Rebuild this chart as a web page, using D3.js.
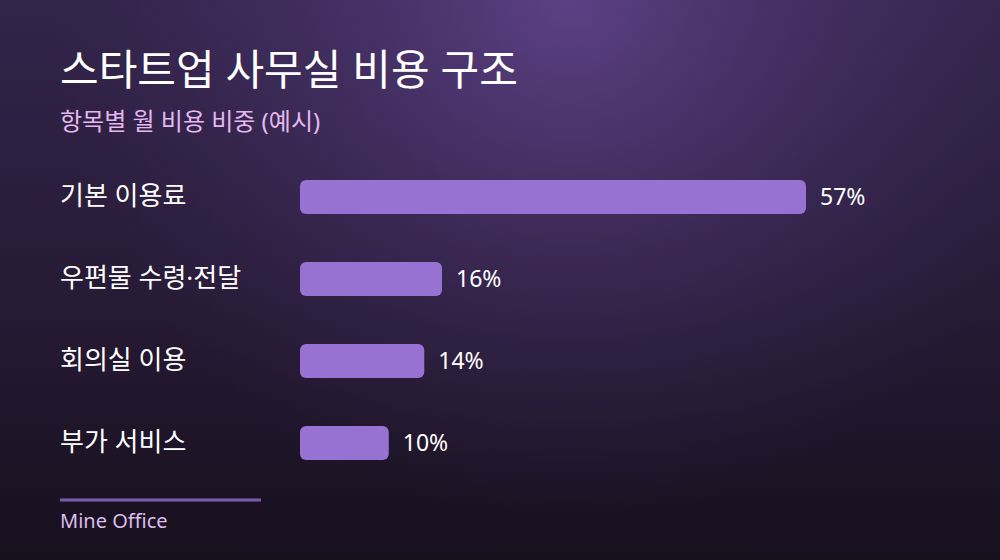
<html>
<head>
<meta charset="utf-8">
<script src="https://d3js.org/d3.v7.min.js"></script>
<style>
body { margin: 0; background: #17111f; }
svg { display: block; font-family: "Noto Sans", "Noto Sans CJK KR", sans-serif; }
</style>
</head>
<body>
<svg width="1000" height="560"></svg>
<script>
  var categories = ["기본 이용료", "우편물 수령·전달", "회의실 이용", "부가 서비스"];
  var shares = [57, 16, 14, 10];
  var valueLabels = ["57%", "16%", "14%", "10%"];

  var svg = d3.select("svg");
  var W = 1000, H = 560;

  // background: vertical fade + glow at the top
  var defs = svg.append("defs");
  var base = defs.append("linearGradient")
    .attr("id", "base")
    .attr("x1", 0).attr("y1", 0).attr("x2", 0).attr("y2", 1);
  base.append("stop").attr("offset", "0%").attr("stop-color", "#33244a");
  base.append("stop").attr("offset", "50%").attr("stop-color", "#281b37");
  base.append("stop").attr("offset", "100%").attr("stop-color", "#17101d");

  var glow = defs.append("radialGradient")
    .attr("id", "glow")
    .attr("gradientUnits", "userSpaceOnUse")
    .attr("cx", 570).attr("cy", 0).attr("r", 520);
  glow.append("stop").attr("offset", "0%").attr("stop-color", "#6a4a98").attr("stop-opacity", 0.75);
  glow.append("stop").attr("offset", "50%").attr("stop-color", "#5a3f85").attr("stop-opacity", 0.35);
  glow.append("stop").attr("offset", "100%").attr("stop-color", "#4a3470").attr("stop-opacity", 0);

  svg.append("rect").attr("width", W).attr("height", H).attr("fill", "url(#base)");
  svg.append("rect").attr("width", W).attr("height", H).attr("fill", "url(#glow)");

  svg.append("text")
    .attr("x", 60).attr("y", 85)
    .attr("fill", "#ffffff")
    .attr("font-size", 42)
    .text("스타트업 사무실 비용 구조");

  svg.append("text")
    .attr("x", 60).attr("y", 130)
    .attr("fill", "#e3b9f0")
    .attr("font-size", 24)
    .text("항목별 월 비용 비중 (예시)");

  var x = d3.scaleLinear().domain([0, 57]).range([300, 806]);
  var y = d3.scaleBand().domain(categories).range([180, 460]).paddingInner(0.585).paddingOuter(0);

  var rows = svg.append("g").selectAll("g")
    .data(categories)
    .enter().append("g");

  rows.append("text")
    .attr("x", 60)
    .attr("y", d => y(d) + y.bandwidth() / 2)
    .attr("dy", "0.3em")
    .attr("fill", "#ffffff")
    .attr("font-size", 26)
    .text(d => d);

  rows.append("rect")
    .attr("x", x(0))
    .attr("y", d => y(d))
    .attr("width", (d, i) => x(shares[i]) - x(0))
    .attr("height", y.bandwidth())
    .attr("rx", 6)
    .attr("fill", "#9872d2");

  rows.append("text")
    .attr("x", (d, i) => x(shares[i]) + 14)
    .attr("y", d => y(d) + y.bandwidth() / 2)
    .attr("dy", "0.35em")
    .attr("fill", "#ffffff")
    .attr("font-size", 23)
    .text((d, i) => valueLabels[i]);

  svg.append("line")
    .attr("x1", 60).attr("x2", 261)
    .attr("y1", 500).attr("y2", 500)
    .attr("stroke", "#7b5aac")
    .attr("stroke-width", 3);

  svg.append("text")
    .attr("x", 60).attr("y", 528)
    .attr("fill", "#dcbdee")
    .attr("font-size", 20)
    .text("Mine Office");
</script>
</body>
</html>
